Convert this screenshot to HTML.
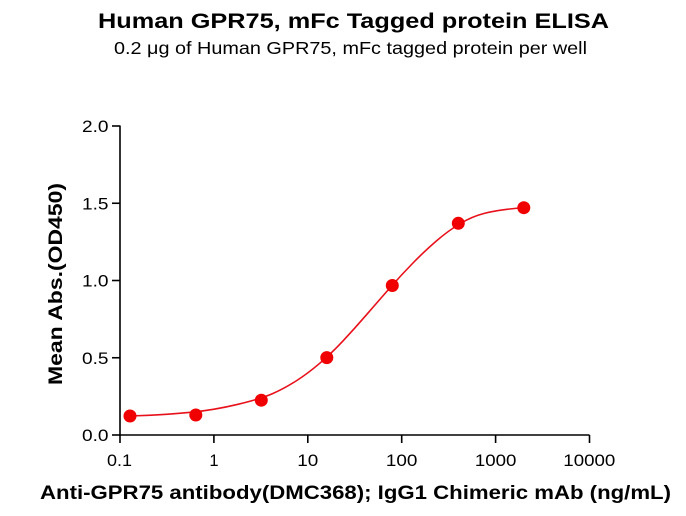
<!DOCTYPE html>
<html>
<head>
<meta charset="utf-8">
<style>
html,body{margin:0;padding:0;background:#fff;}
svg{display:block;}
text{font-family:"Liberation Sans",Arial,sans-serif;fill:#000;}
</style>
</head>
<body>
<svg width="686" height="516" viewBox="0 0 686 516" xmlns="http://www.w3.org/2000/svg">
<rect width="686" height="516" fill="#fff"/>
<!-- Titles -->
<text x="353.5" y="28" font-size="21" font-weight="bold" text-anchor="middle" textLength="511" lengthAdjust="spacingAndGlyphs">Human GPR75, mFc Tagged protein ELISA</text>
<text x="350.5" y="54" font-size="17.5" text-anchor="middle" textLength="473" lengthAdjust="spacingAndGlyphs">0.2 μg of Human GPR75, mFc tagged protein per well</text>

<!-- Axes -->
<g stroke="#000" stroke-width="1.6" fill="none">
<line x1="120" y1="125.5" x2="120" y2="435.8"/>
<line x1="119.2" y1="435" x2="589.5" y2="435"/>
<line x1="112" y1="126" x2="120" y2="126"/>
<line x1="112" y1="203.25" x2="120" y2="203.25"/>
<line x1="112" y1="280.5" x2="120" y2="280.5"/>
<line x1="112" y1="357.75" x2="120" y2="357.75"/>
<line x1="112" y1="435" x2="120" y2="435"/>
<line x1="120" y1="435" x2="120" y2="443"/>
<line x1="213.9" y1="435" x2="213.9" y2="443"/>
<line x1="307.8" y1="435" x2="307.8" y2="443"/>
<line x1="401.7" y1="435" x2="401.7" y2="443"/>
<line x1="495.6" y1="435" x2="495.6" y2="443"/>
<line x1="589.5" y1="435" x2="589.5" y2="443"/>
</g>

<!-- Y tick labels -->
<g font-size="16.5" text-anchor="end">
<text x="108.5" y="132" textLength="26.5" lengthAdjust="spacingAndGlyphs">2.0</text>
<text x="108.5" y="209.25" textLength="26.5" lengthAdjust="spacingAndGlyphs">1.5</text>
<text x="108.5" y="286.5" textLength="26.5" lengthAdjust="spacingAndGlyphs">1.0</text>
<text x="108.5" y="363.75" textLength="26.5" lengthAdjust="spacingAndGlyphs">0.5</text>
<text x="108.5" y="441" textLength="26.5" lengthAdjust="spacingAndGlyphs">0.0</text>
</g>

<!-- X tick labels -->
<g font-size="16.5" text-anchor="middle">
<text x="119.5" y="466" textLength="25" lengthAdjust="spacingAndGlyphs">0.1</text>
<text x="214" y="466">1</text>
<text x="307.8" y="466" textLength="21" lengthAdjust="spacingAndGlyphs">10</text>
<text x="401.7" y="466" textLength="31.5" lengthAdjust="spacingAndGlyphs">100</text>
<text x="495.6" y="466" textLength="41.5" lengthAdjust="spacingAndGlyphs">1000</text>
<text x="589.3" y="466" textLength="52" lengthAdjust="spacingAndGlyphs">10000</text>
</g>

<!-- Axis titles -->
<text x="355.5" y="499" font-size="19" font-weight="bold" text-anchor="middle" textLength="631" lengthAdjust="spacingAndGlyphs">Anti-GPR75 antibody(DMC368); IgG1 Chimeric mAb (ng/mL)</text>
<text transform="translate(62,284) rotate(-90)" x="0" y="0" font-size="19" font-weight="bold" text-anchor="middle" textLength="202" lengthAdjust="spacingAndGlyphs">Mean Abs.(OD450)</text>

<!-- Fitted curve -->
<path d="M130,416 L148.5,415.3 Q166.95,414.6 190.4,412.35 Q213.9,410.1 237.4,404.45 Q260.9,398.8 272.6,393.65 Q284.3,388.5 296.05,381 Q307.8,373.5 319.55,363.45 Q331.3,353.4 343,340.9 Q354.7,328.4 366.45,314.8 Q378.2,301.2 389.95,287.85 Q401.7,274.5 413.45,262.5 Q425.2,250.5 436.9,240.5 Q448.6,230.5 460.35,223.5 Q472.1,216.5 483.85,213.5 Q495.6,210.5 509.75,209 L523.9,207.5" fill="none" stroke="#e8101a" stroke-width="1.6"/>

<!-- Data points -->
<g fill="#f00000">
<circle cx="130" cy="416" r="6.5"/>
<circle cx="195.8" cy="415" r="6.5"/>
<circle cx="261.3" cy="400.2" r="6.5"/>
<circle cx="326.8" cy="357.6" r="6.5"/>
<circle cx="392.3" cy="285.5" r="6.5"/>
<circle cx="458.3" cy="223.3" r="6.5"/>
<circle cx="523.8" cy="207.7" r="6.5"/>
</g>
</svg>
</body>
</html>
